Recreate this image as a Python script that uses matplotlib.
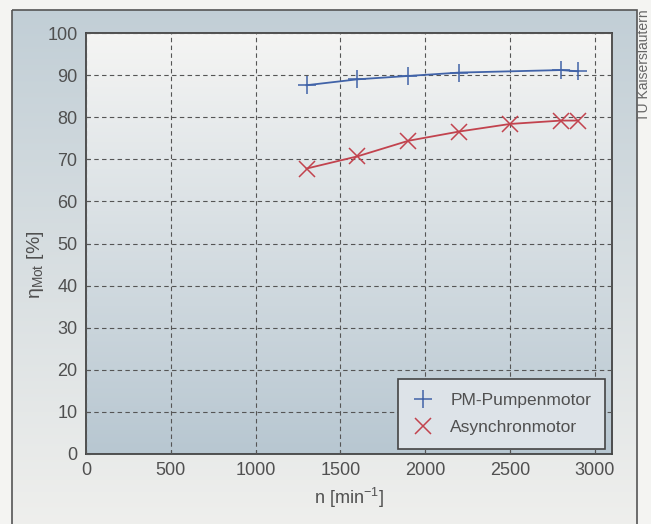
import numpy as np
import matplotlib
matplotlib.use("Agg")
import matplotlib.pyplot as plt
from matplotlib.patches import Rectangle

plt.rcParams['font.family'] = ['Liberation Sans', 'DejaVu Sans']
plt.rcParams['mathtext.fontset'] = 'custom'
plt.rcParams['mathtext.rm'] = 'Liberation Sans'
plt.rcParams['mathtext.it'] = 'Liberation Sans:italic'

# data
n_pm = [1300, 1600, 1900, 2200, 2800, 2900]
eta_pm = [87.6, 89.0, 89.8, 90.6, 91.2, 90.9]
n_asm = [1300, 1600, 1900, 2200, 2500, 2800, 2900]
eta_asm = [67.8, 70.7, 74.4, 76.6, 78.4, 79.2, 79.2]

x_ticks = [0, 500, 1000, 1500, 2000, 2500, 3000]
y_ticks = [0, 10, 20, 30, 40, 50, 60, 70, 80, 90, 100]

txt = '#505050'
blue = '#4163a8'
red = '#c2434e'

fig = plt.figure(figsize=(6.51, 5.24), dpi=100)
fig.patch.set_facecolor('#f4f4f2')

# page background with the framed panel (pixel coordinates)
bg = fig.add_axes([0, 0, 1, 1], zorder=-5)
bg.set_xlim(0, 651)
bg.set_ylim(524, 0)
bg.axis('off')
grad = np.linspace(0, 1, 256).reshape(-1, 1)
top_c = np.array([0.76, 0.81, 0.84])
bot_c = np.array([0.94, 0.94, 0.93])
img = top_c + (bot_c - top_c) * grad[..., None]
img = np.repeat(img, 2, axis=1)
bg.imshow(img, extent=[12, 637, 535, 10], aspect='auto', zorder=0)
bg.add_patch(Rectangle((12, 10), 625, 530, fill=False, ec='#555555', lw=1.2, zorder=1))
bg.text(644, 9, 'TU Kaiserslautern', rotation=90, ha='center', va='top',
        fontsize=10, color='#666666')

ax = fig.add_axes([0.132, 0.1336, 0.808, 0.8034])
# gradient inside plot area
a_top = np.array([0.96, 0.96, 0.955])
a_bot = np.array([0.72, 0.78, 0.82])
img2 = a_top + (a_bot - a_top) * grad[..., None]
img2 = np.repeat(img2, 2, axis=1)
ax.imshow(img2, extent=[0, 3100, 0, 100], aspect='auto', zorder=0)

ax.plot(n_pm, eta_pm, '-', color=blue, lw=1.3, zorder=3)
ax.plot(n_pm, eta_pm, '+', color=blue, ms=13, mew=1.1, ls='none', zorder=4,
        label='PM-Pumpenmotor')
ax.plot(n_asm, eta_asm, '-', color=red, lw=1.3, zorder=3)
ax.plot(n_asm, eta_asm, 'x', color=red, ms=11, mew=1.1, ls='none', zorder=4,
        label='Asynchronmotor')

ax.set_xlim(0, 3100)
ax.set_ylim(0, 100)
ax.set_xticks(x_ticks)
ax.set_yticks(y_ticks)
ax.grid(True, ls=(0, (4, 3)), color='#555555', lw=0.8, zorder=1)
ax.set_axisbelow(False)
ax.tick_params(direction='in', length=3, colors='#555555', labelcolor=txt,
               labelsize=13, pad=6)
for sp in ax.spines.values():
    sp.set_color('#444444')
    sp.set_linewidth(1.3)

ax.set_xlabel(r'n [min$^{\mathregular{-1}}$]', fontsize=13, color=txt)
ax.xaxis.set_label_coords(0.5, -0.075)
ax.set_ylabel(r'$\mathregular{\eta_{Mot}}$ [%]', fontsize=14, color=txt)
ax.yaxis.set_label_coords(-0.075, 0.45)

leg = ax.legend(loc='lower right', fontsize=12.5, frameon=True, fancybox=False,
                borderaxespad=0.3, handlelength=1.2, handletextpad=1.0,
                borderpad=0.8, labelspacing=0.7, bbox_to_anchor=(0.997, 0.0))
leg.get_frame().set_facecolor('#dde3e8')
leg.get_frame().set_edgecolor('#444444')
leg.get_frame().set_linewidth(1.2)
leg.get_frame().set_alpha(1)
for t in leg.get_texts():
    t.set_color(txt)

fig.savefig('out.png', dpi=100)
